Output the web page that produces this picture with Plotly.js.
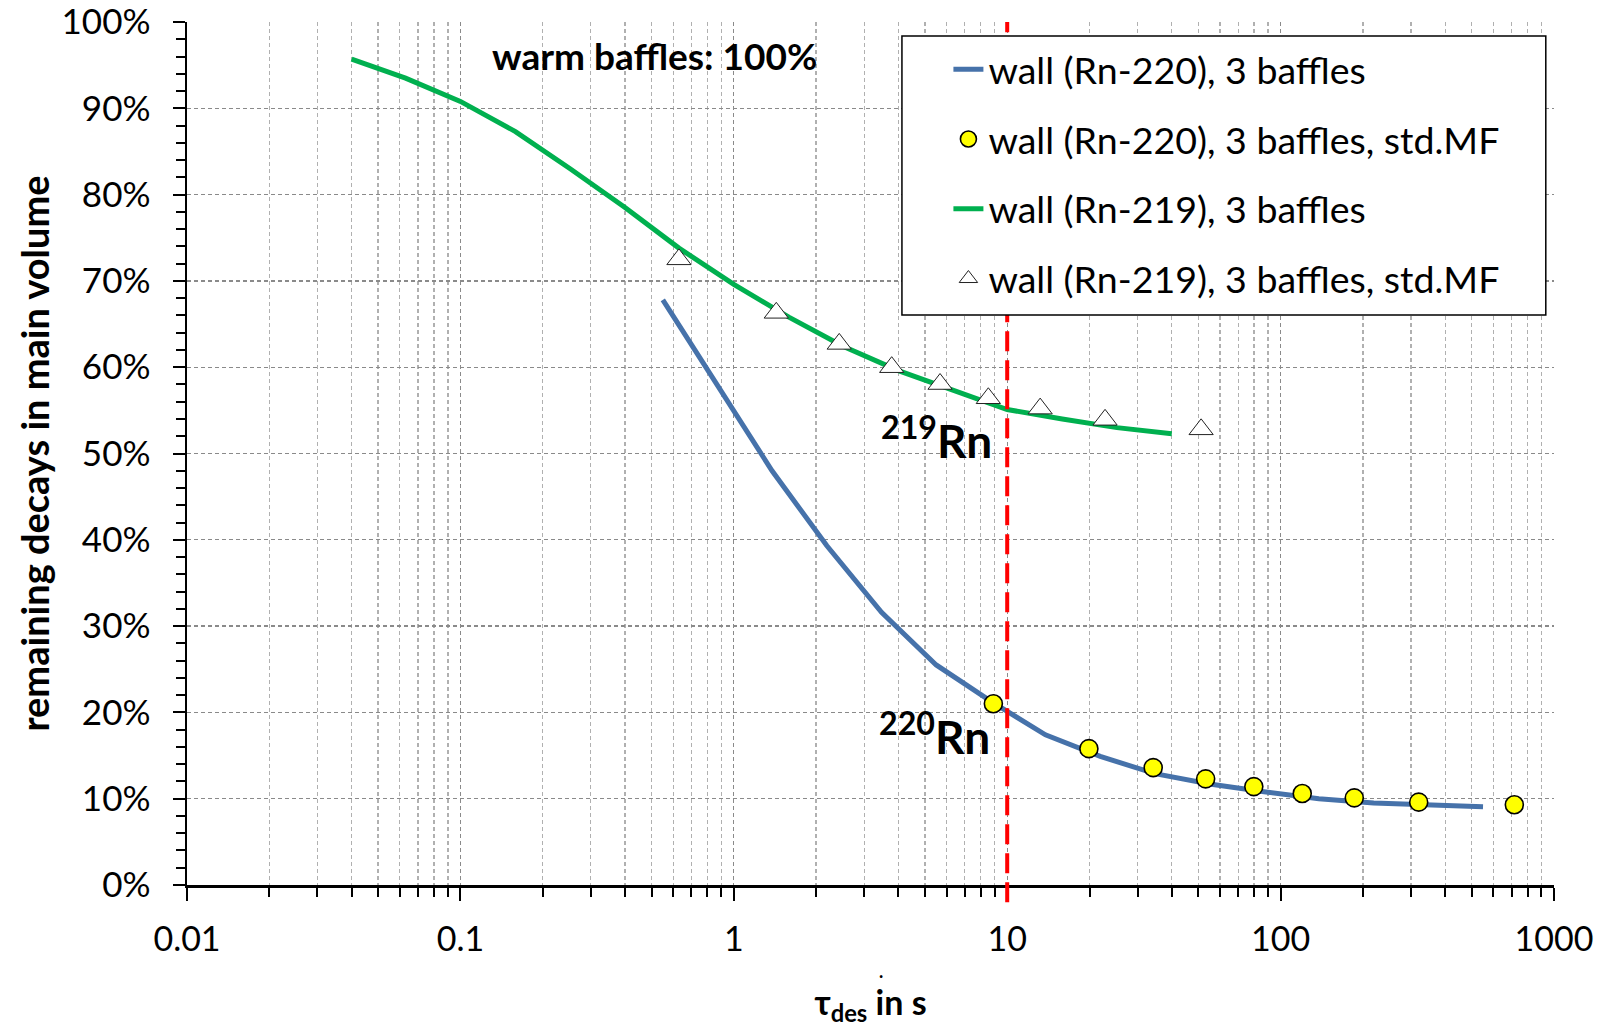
<!DOCTYPE html>
<html>
<head>
<meta charset="utf-8">
<script src="https://cdn.plot.ly/plotly-3.0.1.min.js"></script>
<style>
  html, body { margin: 0; padding: 0; background: #ffffff; }
  #chart { width: 1606px; height: 1036px; }
</style>
</head>
<body>
<div id="chart"></div>
<script>
// ---- data ----
const tauRn220Line = [0.55, 0.87, 1.38, 2.19, 3.47, 5.5, 8.7, 13.8, 21.9, 34.7, 55, 87, 138, 219, 347, 550];
const remRn220Line = [67.8, 57.9, 48.0, 39.3, 31.6, 25.5, 21.3, 17.4, 14.9, 12.9, 11.7, 10.8, 10.0, 9.5, 9.25, 9.07];

const tauRn220MF = [8.9, 19.9, 34.2, 53.2, 79.8, 120, 186, 320, 716];
const remRn220MF = [21.0, 15.8, 13.6, 12.3, 11.4, 10.6, 10.1, 9.6, 9.3];

const tauRn219Line = [0.04, 0.063, 0.1, 0.159, 0.252, 0.4, 0.63, 1.0, 1.59, 2.52, 4.0, 6.3, 10, 15.9, 25.2, 40];
const remRn219Line = [95.7, 93.5, 90.8, 87.3, 83.0, 78.5, 73.8, 69.6, 65.8, 62.4, 59.6, 57.4, 55.1, 54.0, 53.0, 52.3];

const tauRn219MF = [0.63, 1.43, 2.43, 3.78, 5.68, 8.53, 13.2, 22.8, 51.2];
const remRn219MF = [72.5, 66.3, 62.7, 60.0, 58.05, 56.4, 55.2, 53.9, 52.8];

const seriesNames = [
  'wall (Rn-220), 3 baffles',
  'wall (Rn-220), 3 baffles, std.MF',
  'wall (Rn-219), 3 baffles',
  'wall (Rn-219), 3 baffles, std.MF'
];

const xMajorTicks = [0.01, 0.1, 1, 10, 100, 1000];
const xMajorLabels = ['0.01', '0.1', '1', '10', '100', '1000'];
const xMinorTicks = [0.02,0.03,0.04,0.05,0.06,0.07,0.08,0.09,
                     0.2,0.3,0.4,0.5,0.6,0.7,0.8,0.9,
                     2,3,4,5,6,7,8,9,
                     20,30,40,50,60,70,80,90,
                     200,300,400,500,600,700,800,900];

const tauDesLimit = 10;

// ---- styling ----
const FONT = 'Lato, "Open Sans", "DejaVu Sans", sans-serif';
const BLUE = '#4672AA';
const GREEN = '#00B04F';

const traces = [
  { x: tauRn220Line, y: remRn220Line, name: seriesNames[0], legendgroup: 'g1',
    type: 'scatter', mode: 'lines', line: { color: BLUE, width: 5 } },
  { x: tauRn220MF, y: remRn220MF, name: seriesNames[1], legendgroup: 'g2',
    type: 'scatter', mode: 'markers',
    marker: { symbol: 'circle', size: 18, color: '#FFFF00', line: { color: '#000000', width: 1.6 } } },
  { x: tauRn219Line, y: remRn219Line, name: seriesNames[2], legendgroup: 'g3',
    type: 'scatter', mode: 'lines', line: { color: GREEN, width: 5 } },
  { x: tauRn219MF, y: remRn219MF, name: seriesNames[3], legendgroup: 'g4',
    type: 'scatter', mode: 'markers',
    marker: { symbol: 'triangle-up', size: 21, color: '#FFFFFF', line: { color: '#222222', width: 1 } } }
];

const layout = {
  width: 1606, height: 1036,
  margin: { l: 187, r: 52, t: 22, b: 151 },
  paper_bgcolor: '#ffffff', plot_bgcolor: '#ffffff',
  font: { family: FONT, color: '#000000', size: 34 },
  showlegend: true,
  legend: {
    x: 0.557, y: 0.981, xanchor: 'left', yanchor: 'top',
    bgcolor: 'rgba(0,0,0,0)', borderwidth: 0,
    font: { family: FONT, size: 37.5, color: '#000000' },
    tracegroupgap: 18, itemsizing: 'trace', traceorder: 'grouped'
  },
  xaxis: {
    type: 'log', range: [-2, 3],
    tickmode: 'array', tickvals: xMajorTicks, ticktext: xMajorLabels,
    ticks: 'outside', ticklen: 13, tickwidth: 2, tickcolor: '#000000',
    showline: true, linecolor: '#000000', linewidth: 2.5,
    showgrid: true, gridcolor: '#8a8a8a', griddash: '4px,3px', gridwidth: 1.3,
    zeroline: false,
    tickfont: { family: FONT, size: 34, color: '#000000' },
    ticklabelstandoff: 10,
    minor: {
      tickmode: 'array', tickvals: xMinorTicks,
      ticks: 'outside', ticklen: 9, tickwidth: 2, tickcolor: '#000000',
      showgrid: true, gridcolor: '#b0b0b0', griddash: '4px,3px', gridwidth: 1.3
    },
    title: { text: 'τ<sub>des</sub> in s', font: { family: FONT, size: 34, color: '#000000', weight: 'bold' }, standoff: 34 }
  },
  yaxis: {
    range: [0, 100], dtick: 10, ticksuffix: '%',
    ticks: 'outside', ticklen: 12, tickwidth: 2, tickcolor: '#000000',
    showline: true, linecolor: '#000000', linewidth: 2.5,
    showgrid: true, gridcolor: '#8a8a8a', griddash: '4px,3px', gridwidth: 1.3,
    zeroline: false,
    tickfont: { family: FONT, size: 35, color: '#000000' },
    ticklabelstandoff: 15, ticklabeloverflow: 'allow',
    minor: { dtick: 2, ticks: 'outside', ticklen: 9, tickwidth: 2, tickcolor: '#000000', showgrid: false },
    title: { text: 'remaining decays in main volume', font: { family: FONT, size: 38, color: '#000000', weight: 'bold' }, standoff: 0 }
  },
  shapes: [
    { type: 'line', xref: 'x', yref: 'paper', x0: tauDesLimit, x1: tauDesLimit, y0: -0.02, y1: 1,
      line: { color: '#FF0000', width: 4, dash: '20px,9px' }, layer: 'above' },
    { type: 'rect', xref: 'paper', yref: 'paper', x0: 0.523, x1: 0.994, y0: 0.6605, y1: 0.9838,
      fillcolor: '#ffffff', line: { color: '#000000', width: 1.5 }, layer: 'above' }
  ],
  annotations: [
    { xref: 'paper', yref: 'paper', x: 0.342, y: 0.961, xanchor: 'center', yanchor: 'middle',
      text: '<b>warm baffles: 100%</b>', showarrow: false,
      font: { family: FONT, size: 37, color: '#000000' } },
    { xref: 'paper', yref: 'paper', x: 0.59, y: 0.519, xanchor: 'right', yanchor: 'middle',
      text: '<b><sup>219</sup>Rn</b>', showarrow: false,
      font: { family: FONT, size: 46, color: '#000000' } },
    { xref: 'paper', yref: 'paper', x: 0.589, y: 0.176, xanchor: 'right', yanchor: 'middle',
      text: '<b><sup>220</sup>Rn</b>', showarrow: false,
      font: { family: FONT, size: 46, color: '#000000' } },
    { xref: 'paper', yref: 'paper', x: 0.508, y: -0.1, xanchor: 'center', yanchor: 'middle',
      text: '<b>.</b>', showarrow: false,
      font: { family: FONT, size: 18, color: '#000000' } }
  ]
};

Plotly.newPlot('chart', traces, layout, { displayModeBar: false, staticPlot: true });
</script>
</body>
</html>
